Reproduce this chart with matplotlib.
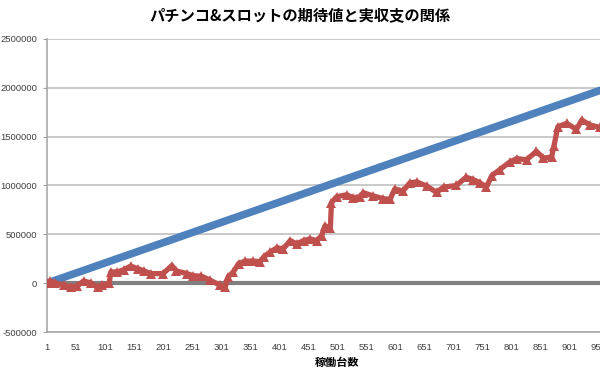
import matplotlib.pyplot as plt
from matplotlib.ticker import FixedLocator

plt.rcParams['font.family'] = ['Noto Sans CJK JP', 'DejaVu Sans']

# 稼働台数 (x) and 実収支 (red)
actual_x = [1, 6, 15, 30, 42, 53, 64, 76, 88, 96, 108, 111, 122, 134, 145, 157,
            168, 180, 201, 216, 224, 242, 253, 267, 282, 299, 308, 313, 322,
            331, 342, 356, 368, 374, 385, 397, 408, 420, 431, 443, 454, 466,
            474, 480, 489, 491, 500, 517, 528, 540, 546, 563, 580, 592, 600,
            614, 626, 638, 655, 672, 684, 706, 723, 735, 746, 758, 767, 781,
            798, 810, 827, 844, 856, 870, 874, 881, 896, 913, 922, 936, 953]
actual_y = [0, 20000, 5000, -20000, -37000, -30000, 23000, 3000, -44000,
            -20000, -3000, 115000, 115000, 139000, 175000, 149000, 126000,
            98000, 98000, 180000, 125000, 98000, 75000, 72000, 30000, -20000,
            -37000, 64000, 115000, 200000, 226000, 226000, 220000, 267000,
            317000, 362000, 352000, 436000, 403000, 436000, 453000, 436000,
            487000, 588000, 560000, 825000, 885000, 905000, 875000, 885000,
            926000, 893000, 865000, 858000, 965000, 943000, 1027000, 1037000,
            994000, 930000, 984000, 1000000, 1085000, 1061000, 1030000, 985000,
            1100000, 1163000, 1240000, 1275000, 1264000, 1349000, 1281000,
            1290000, 1400000, 1602000, 1636000, 1575000, 1670000, 1620000,
            1595000]

# 期待値 (blue): straight line
expected_x = [1, 1000]
expected_y = [0, 2070000]

zero_x = [1, 1000]
zero_y = [0, 0]

x_ticks = list(range(1, 1000, 50))
y_ticks = [-500000, 0, 500000, 1000000, 1500000, 2000000, 2500000]

fig = plt.figure(figsize=(6, 3.74), dpi=100)
ax = fig.add_axes([47 / 600, 1 - 332 / 374, 580 / 600, 293 / 374])

ax.plot(zero_x, zero_y, color='#808080', lw=3, zorder=2, solid_capstyle='butt')
ax.plot(expected_x, expected_y, color='#4F81BD', lw=5.5, zorder=3, solid_capstyle='butt')
ax.plot(actual_x, actual_y, color='#C0504D', lw=3.8, marker='^', markersize=7,
        markeredgewidth=0, zorder=4)

ax.set_xlim(1, 1000)
ax.set_ylim(-500000, 2500000)
ax.xaxis.set_major_locator(FixedLocator(x_ticks))
ax.set_yticks(y_ticks)
ax.set_yticklabels([str(v) for v in y_ticks])
ax.set_xticklabels([str(v) for v in x_ticks])

for lbl in ax.get_xticklabels() + ax.get_yticklabels():
    lbl.set_family(['Liberation Sans', 'DejaVu Sans'])
    lbl.set_fontsize(6.8)
    lbl.set_color('#404040')

ax.tick_params(axis='y', length=3, pad=4, color='#A0A0A0')
ax.tick_params(axis='x', length=0, pad=8)

ax.grid(axis='y', color='#C0C0C0', lw=1.2)
ax.set_axisbelow(True)
for s in ['top', 'right']:
    ax.spines[s].set_visible(False)
for s in ['left', 'bottom']:
    ax.spines[s].set_color('#A8A8A8')
    ax.spines[s].set_linewidth(1.2)

ax.set_xlabel('稼働台数', fontsize=8, fontweight='bold', labelpad=3)
fig.text(0.5, 1 - 15 / 374, 'パチンコ&スロットの期待値と実収支の関係',
         ha='center', va='center', fontsize=11, fontweight='bold')

fig.savefig('out.png', dpi=100)
